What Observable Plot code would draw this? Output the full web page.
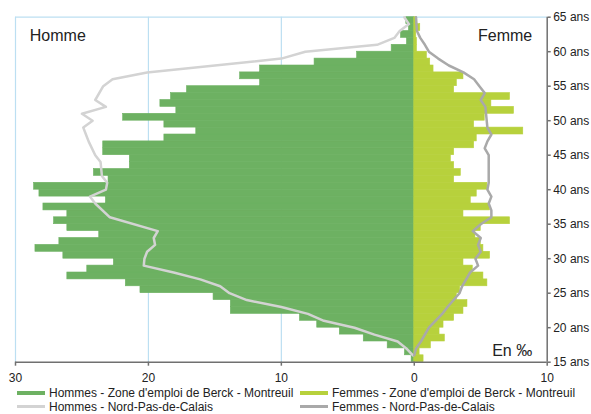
<!DOCTYPE html>
<html><head><meta charset="utf-8">
<script src="https://cdn.jsdelivr.net/npm/d3@7"></script>
<script src="https://cdn.jsdelivr.net/npm/@observablehq/plot@0.6"></script>
<style>
body{margin:0;background:#fff;font-family:"Liberation Sans",Arial,sans-serif;}
#wrap{position:relative;width:591px;height:414px;overflow:hidden;background:#fff}
#legend{position:absolute;left:0;top:386px;width:591px;height:28px;font-size:12px;color:#222}
.item{position:absolute;white-space:nowrap;line-height:11px;height:11px}
.sw{position:absolute}
</style></head><body><div id="wrap"><div id="chart"></div><div id="legend"></div></div>
<script>
// Age bands (each bar spans age .. age+1)
const ages = [15,16,17,18,19,20,21,22,23,24,25,26,27,28,29,30,31,32,33,34,35,36,37,38,39,40,41,42,43,44,45,46,47,48,49,50,51,52,53,54,55,56,57,58,59,60,61,62,63,64];
// ‰ — Zone d'emploi de Berck - Montreuil
const hommesZone = [0.2,0.7,2.0,3.8,5.6,7.3,8.6,13.8,13.8,15.1,20.6,21.7,26.1,24.6,22.6,26.4,28.5,26.7,23.7,26.1,27.1,26.1,27.9,23.2,28.2,28.6,23.0,24.1,21.4,21.4,23.4,23.4,18.8,16.4,18.8,21.9,17.9,19.1,18.3,17.1,11.6,13.1,11.6,7.5,4.3,1.7,0.55,1.0,0.4,0.6];
const femmesZone = [0.7,0.4,1.25,2.3,1.9,2.2,3.0,3.7,4.0,3.2,3.45,5.5,5.2,4.4,3.7,5.7,5.2,5.0,4.6,5.0,7.2,3.7,5.7,4.25,4.7,5.5,3.0,3.5,3.0,2.75,3.0,4.5,4.7,8.2,4.5,5.3,7.5,5.8,7.2,3.0,3.2,3.7,1.45,1.2,0.95,0.2,0.2,0.15,0.45,0.2];
// ‰ — Nord-Pas-de-Calais (line vertices)
const hommesNPDCAges = [16,17,18,19,20,21,22,23,24,25,26,27,28,29,30,31,32,33,34,36,38,39,40,41,42,44,45,47,48,49,50,51,52,53,55,56,57,59,60,61,62,63,64,65];
const hommesNPDC = [0.1,0.6,1.25,3.0,4.5,6.8,8.0,10.0,12.6,13.9,14.6,16.1,18.1,20.35,20.3,20.1,19.5,19.6,19.3,22.9,24.0,24.4,23.2,23.1,23.5,23.6,24.0,24.5,24.7,24.9,24.2,25.0,23.2,24.0,23.4,22.7,20.1,10.0,8.2,2.8,1.5,1.1,0.4,0.75];
const femmesNPDCAges = [16,17,18,20,22,23,25,26,28,29,30,31,32,33,34,35,36,37,38,39,40,41,43,45,46,47,48,49,51,52,53,54,55,56,57,58,59,60,61,62,63,65];
const femmesNPDC = [0,0.13,0.5,1.1,2.1,2.5,3.4,3.6,4.2,4.8,4.6,5.0,4.8,5.0,4.4,5.0,5.8,5.8,5.6,5.8,5.5,5.6,5.6,5.6,5.3,5.5,5.8,5.5,5.4,5.35,5.0,5.3,4.9,4.5,3.7,2.6,1.8,1.1,0.8,0.45,0.2,0.13];
const xTicks = [-30,-20,-10,0,10];
const yTicks = [15,20,25,30,35,40,45,50,55,60,65];
const legendItems = [
  {label:"Hommes - Zone d'emploi de Berck - Montreuil", color:"#6db162", kind:"bar"},
  {label:"Femmes - Zone d'emploi de Berck - Montreuil", color:"#b7d13c", kind:"bar"},
  {label:"Hommes - Nord-Pas-de-Calais", color:"#d3d3d3", kind:"line"},
  {label:"Femmes - Nord-Pas-de-Calais", color:"#a9a9a9", kind:"line"}
];

const bars = ages.map((a,i)=>({age:a, h:hommesZone[i], f:femmesZone[i]}));
const hLine = hommesNPDCAges.map((a,i)=>({age:a, v:hommesNPDC[i]}));
const fLine = femmesNPDCAges.map((a,i)=>({age:a, v:femmesNPDC[i]}));

const chart = Plot.plot({
  width:591, height:386,
  marginLeft:15, marginRight:44.3, marginTop:16.7, marginBottom:24.3,
  x:{domain:[-30,10]},
  y:{domain:[15,65]},
  style:{fontFamily:'"Liberation Sans", Arial, sans-serif', fontSize:"12px", color:"#222", background:"#fff", overflow:"visible"},
  marks:[
    Plot.ruleX([-30,-20,-10], {stroke:"#bcdff2", strokeWidth:1.2}),
    Plot.ruleY([65], {x1:-30, x2:10, stroke:"#bcdff2", strokeWidth:1.2}),
    Plot.rect(bars, {x1:0, x2:d=>-d.h, y1:"age", y2:d=>d.age+1, fill:"#6db162", stroke:"#6db162", strokeWidth:0.6, inset:0}),
    Plot.rect(bars, {x1:0, x2:"f", y1:"age", y2:d=>d.age+1, fill:"#b7d13c", stroke:"#b7d13c", strokeWidth:0.6, inset:0}),
    Plot.line(hLine, {x:d=>-d.v, y:"age", stroke:"#d3d3d3", strokeWidth:2.5}),
    Plot.line(fLine, {x:"v", y:"age", stroke:"#a9a9a9", strokeWidth:2.5}),
    Plot.ruleY([15], {x1:-30, x2:10, stroke:"#707070", strokeWidth:1.5}),
    Plot.ruleX([10], {y1:15, y2:65, stroke:"#707070", strokeWidth:1.5}),
    Plot.axisX({ticks:xTicks, tickFormat:d=>Math.abs(d), tickSize:4, tickPadding:7, label:null, stroke:"#707070", strokeWidth:1.5}),
    Plot.axisY({anchor:"right", ticks:yTicks, tickFormat:d=>d+" ans", tickSize:3, tickPadding:3, label:null, stroke:"#707070", strokeWidth:1.5}),
    Plot.text(["Homme"], {frameAnchor:"top-left", textAnchor:"start", lineAnchor:"bottom", dx:14.3, dy:23.3, fontSize:16, fill:"#222"}),
    Plot.text(["Femme"], {frameAnchor:"top-right", textAnchor:"end", lineAnchor:"bottom", dx:-15, dy:23.3, fontSize:16, fill:"#222"}),
    Plot.text(["En ‰"], {frameAnchor:"bottom-right", textAnchor:"end", lineAnchor:"bottom", dx:-15, dy:-6.7, fontSize:16, fill:"#222"})
  ]
});
document.getElementById("chart").appendChild(chart);

const leg = document.getElementById("legend");
const slots = [{x:17,r:0},{x:300,r:0},{x:17,r:1},{x:300,r:1}];
legendItems.forEach((it,i)=>{
  const p = slots[i];
  const sw = document.createElement("div");
  sw.className = "sw";
  sw.style.left = p.x + "px";
  sw.style.width = "28px";
  sw.style.background = it.color;
  if (it.kind === "bar") { sw.style.top = (4.5 + p.r*14) + "px"; sw.style.height = "4.5px"; }
  else { sw.style.top = (4.7 + p.r*14) + "px"; sw.style.height = "3px"; }
  leg.appendChild(sw);
  const t = document.createElement("div");
  t.className = "item";
  t.style.left = (p.x + 32) + "px";
  t.style.top = (1.5 + p.r*14) + "px";
  t.textContent = it.label;
  leg.appendChild(t);
});
</script>
</body></html>
